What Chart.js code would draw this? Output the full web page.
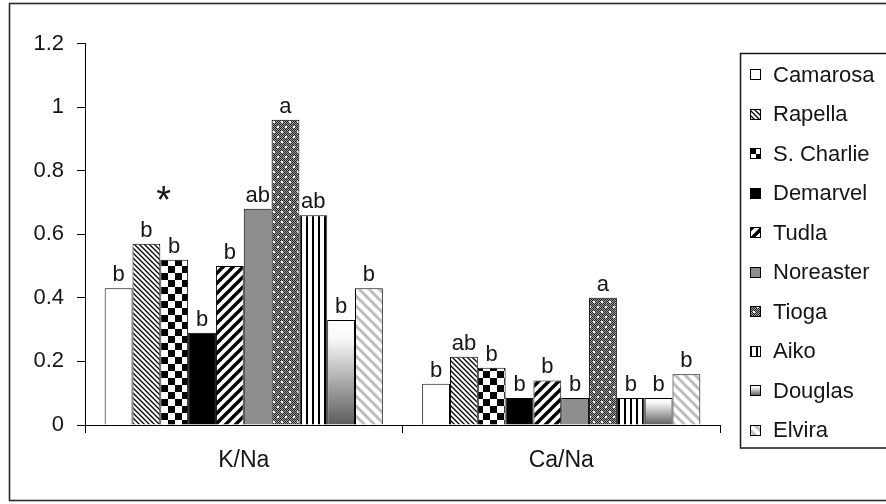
<!DOCTYPE html>
<html>
<head>
<meta charset="utf-8">
<script src="https://cdn.jsdelivr.net/npm/chart.js@4/dist/chart.umd.min.js"></script>
<style>
  html, body { margin: 0; padding: 0; background: #fff; }
  #wrap { width: 886px; height: 504px; }
</style>
</head>
<body>
<div id="wrap"><canvas id="c" width="886" height="504"></canvas></div>
<script>
// Ratio categories on the x axis
const categories = ['K/Na', 'Ca/Na'];
// Strawberry cultivars (one series each)
const cultivars = ['Camarosa', 'Rapella', 'S. Charlie', 'Demarvel', 'Tudla',
                   'Noreaster', 'Tioga', 'Aiko', 'Douglas', 'Elvira'];
// Values per cultivar: [K/Na, Ca/Na]
const camarosa  = [0.43, 0.13];
const rapella   = [0.57, 0.215];
const sCharlie  = [0.52, 0.18];
const demarvel  = [0.29, 0.085];
const tudla     = [0.50, 0.14];
const noreaster = [0.68, 0.085];
const tioga     = [0.96, 0.40];
const aiko      = [0.66, 0.085];
const douglas   = [0.33, 0.085];
const elvira    = [0.43, 0.16];
// Significance letters above each bar, per category, in cultivar order
const kNaLetters  = ['b', 'b', 'b', 'b', 'b', 'ab', 'a', 'ab', 'b', 'b'];
const caNaLetters = ['b', 'ab', 'b', 'b', 'b', 'b', 'a', 'b', 'b', 'b'];
// Star marking the K/Na group, placed over the S. Charlie bar
const starMark = { text: '*', category: 0, series: 2, value: 0.70 };
// Y axis tick labels
const yTickLabels = ['0', '0.2', '0.4', '0.6', '0.8', '1', '1.2'];

const seriesValues = [camarosa, rapella, sCharlie, demarvel, tudla,
                      noreaster, tioga, aiko, douglas, elvira];
const letters = [kNaLetters, caNaLetters];

const FONT = '"Liberation Sans", Arial, sans-serif';
const canvas = document.getElementById('c');
const ctx = canvas.getContext('2d');

function tile(w, h, paint) {
  const t = document.createElement('canvas');
  t.width = w; t.height = h;
  const g = t.getContext('2d');
  g.fillStyle = '#fff';
  g.fillRect(0, 0, w, h);
  paint(g, w, h);
  return ctx.createPattern(t, 'repeat');
}
function diagonal(size, width, color, down) {
  return tile(size, size, (g, w, h) => {
    g.strokeStyle = color;
    g.lineWidth = width;
    g.beginPath();
    for (let k = -1; k <= 1; k++) {
      if (down) { g.moveTo(k * w - 1, -1); g.lineTo(k * w + w + 1, h + 1); }
      else { g.moveTo(k * w - 1, h + 1); g.lineTo(k * w + w + 1, -1); }
    }
    g.stroke();
  });
}

const fills = [
  '#ffffff',
  diagonal(5, 1.3, '#000', true),
  tile(14, 14, (g) => { g.fillStyle = '#000'; g.fillRect(0, 0, 7, 7); g.fillRect(7, 7, 7, 7); }),
  '#000000',
  diagonal(10, 3.4, '#000', false),
  '#8e8e8e',
  tile(8, 10, (g, w, h) => {
    for (let y = 0; y < h; y++) for (let x = 0; x < w; x++) {
      g.fillStyle = (x + y) % 2 ? '#9a9a9a' : '#262626';
      g.fillRect(x, y, 1, 1);
    }
    g.fillStyle = '#fff';
    g.fillRect(1, 1, 2, 2);
    g.fillRect(5, 6, 2, 2);
  }),
  tile(6, 6, (g) => { g.fillStyle = '#000'; g.fillRect(0, 0, 2, 6); }),
  null,
  diagonal(10, 3, '#bdbdbd', true)
];

function shade(top, bottom) {
  const g = ctx.createLinearGradient(0, top, 0, bottom);
  g.addColorStop(0, '#ffffff');
  g.addColorStop(0.18, '#f8f8f8');
  g.addColorStop(1, '#5c5c5c');
  return g;
}

function barFill(i) {
  if (fills[i]) return fills[i];
  return (c) => {
    const y = c.chart.scales.y;
    if (c.type !== 'data' || !y) return '#aaa';
    const top = y.getPixelForValue(c.raw), bottom = y.getPixelForValue(0);
    if (!isFinite(top) || !isFinite(bottom) || bottom - top < 1) return '#aaa';
    return shade(top, bottom);
  };
}

const datasets = cultivars.map((name, i) => ({
  label: name,
  data: seriesValues[i],
  backgroundColor: barFill(i),
  borderColor: '#000',
  borderWidth: 1,
  borderSkipped: 'start',
  categoryPercentage: 0.876,
  barPercentage: 1.0
}));

const framePlugin = {
  id: 'frame',
  beforeDraw(chart) {
    const g = chart.ctx;
    g.save();
    g.fillStyle = '#fff';
    g.fillRect(0, 0, chart.width, chart.height);
    g.strokeStyle = '#2a2a2a';
    g.lineWidth = 1.6;
    g.strokeRect(9.5, 3.5, chart.width + 10, 497);
    g.restore();
  }
};

const letterPlugin = {
  id: 'letters',
  afterDatasetsDraw(chart) {
    const g = chart.ctx;
    g.save();
    g.fillStyle = '#151515';
    g.font = '22px ' + FONT;
    g.textAlign = 'center';
    g.textBaseline = 'alphabetic';
    chart.data.datasets.forEach((ds, si) => {
      const meta = chart.getDatasetMeta(si);
      meta.data.forEach((bar, ci) => {
        g.fillText(letters[ci][si], bar.x, bar.y - 7);
      });
    });
    const bar = chart.getDatasetMeta(starMark.series).data[starMark.category];
    g.font = '38px ' + FONT;
    g.textBaseline = 'middle';
    g.fillText(starMark.text, bar.x - bar.width * 0.38, chart.scales.y.getPixelForValue(starMark.value));
    g.restore();
  }
};

const legendPlugin = {
  id: 'boxLegend',
  afterDraw(chart) {
    const g = chart.ctx;
    const left = 740.5, top = 53.5, bottom = 448;
    g.save();
    g.strokeStyle = '#1a1a1a';
    g.lineWidth = 1.5;
    g.strokeRect(left, top, chart.width + 10 - left, bottom - top);
    g.font = '22px ' + FONT;
    g.textAlign = 'left';
    g.textBaseline = 'middle';
    chart.data.datasets.forEach((ds, i) => {
      const cy = 74.5 + i * 39.5;
      const sx = 750.5, sy = Math.round(cy - 5.5) + 0.5, s = 10;
      g.fillStyle = fills[i] || shade(sy, sy + s);
      g.fillRect(sx, sy, s, s);
      g.strokeStyle = '#000';
      g.lineWidth = 1;
      g.strokeRect(sx, sy, s, s);
      g.fillStyle = '#151515';
      g.fillText(ds.label, 773, cy + 1);
    });
    g.restore();
  }
};

new Chart(canvas, {
  type: 'bar',
  data: { labels: categories, datasets },
  options: {
    responsive: false,
    animation: false,
    layout: { padding: { left: 0, top: 43.5, right: 166, bottom: 0 } },
    plugins: { legend: { display: false }, tooltip: { enabled: false } },
    scales: {
      x: {
        grid: { offset: true, drawOnChartArea: false, drawTicks: true, tickLength: 8, color: '#000', lineWidth: 1 },
        border: { display: true, color: '#000', width: 1 },
        ticks: { color: '#151515', font: { family: FONT, size: 23 }, padding: 14 },
        afterFit(scale) { scale.height = 79; }
      },
      y: {
        min: 0,
        max: 1.2,
        grid: { drawOnChartArea: false, drawTicks: true, tickLength: 8, color: '#000', lineWidth: 1 },
        border: { display: true, color: '#000', width: 1 },
        ticks: {
          stepSize: 0.2,
          color: '#151515',
          font: { family: FONT, size: 22 },
          padding: 13,
          callback: (v, i) => yTickLabels[i]
        },
        afterFit(scale) { scale.width = 85; }
      }
    }
  },
  plugins: [framePlugin, letterPlugin, legendPlugin]
});
</script>
</body>
</html>
